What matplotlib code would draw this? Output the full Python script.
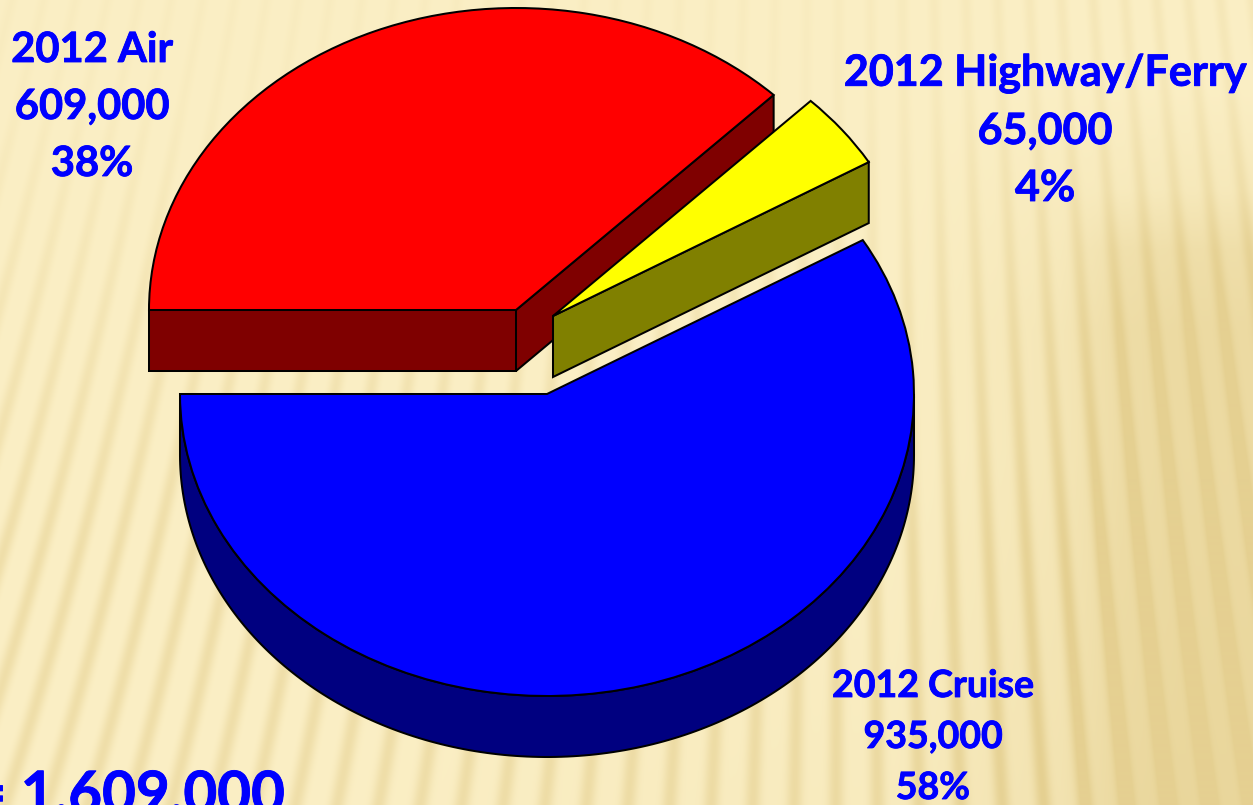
import numpy as np
import matplotlib
matplotlib.use("Agg")
import matplotlib.pyplot as plt
import matplotlib.patheffects as pe
from matplotlib.patches import Wedge, Polygon
from matplotlib.transforms import Affine2D

# data
categories = ["2012 Air", "2012 Highway/Ferry", "2012 Cruise"]
values = [609000, 65000, 935000]
percents = ["38%", "4%", "58%"]
value_labels = ["609,000", "65,000", "935,000"]
total_label = "= 1,609,000"

# style / layout
W, H = 1253, 805
centers = [(516, 310), (553, 316), (547, 394)]
RX, RY, DEPTH = 367, 302, 61
tops = ["#FF0000", "#FFFF00", "#0000FF"]
sides = ["#7F0000", "#808000", "#000080"]
BLUE_TEXT = "#0000FF"
START = 180.0
PERSPECTIVE = 1.06
LW = 1.45

fig = plt.figure(figsize=(W / 100, H / 100), dpi=100)
ax = fig.add_axes([0, 0, 1, 1])
ax.set_xlim(0, W)
ax.set_ylim(H, 0)
ax.axis("off")

# background texture: thin, slightly fanned stripes on a pale cream ground
yy, xx = np.mgrid[0:H, 0:W].astype(float)
lean = 0.28 - xx * 0.38 / 1150.0
u = xx + lean * (yy - 400.0)
s = (0.5 + 0.5 * np.sin(u * 2 * np.pi / 36.0)) ** 2.5
amp = 0.15 + 0.6 * np.clip((yy - 100) / 450.0, 0, 1) + 0.2 * np.clip((xx - 800) / 300.0, 0, 1)
dark = 0.45 * np.clip((xx - 880) / 300.0, 0, 1) * np.clip((yy - 80) / 250.0, 0, 1)
dark = dark + 0.22 * np.clip((xx - 1060) / 60.0, 0, 1) * np.clip((yy - 190) / 60.0, 0, 1)
dark = dark + 0.12 * np.clip((yy - 450) / 350.0, 0, 1) * np.clip((xx - 300) / 500.0, 0, 1)
t = np.clip(s * amp * 0.7 + dark, 0, 1)
base = np.array([251, 239, 197]) / 255
deep = np.array([229, 208, 145]) / 255
img = base[None, None, :] * (1 - t[..., None]) + deep[None, None, :] * t[..., None]
ax.imshow(img, extent=(0, W, H, 0), aspect="auto", zorder=0)


def warp(ang):
    """Perspective of the tilted pie: angle on the disc to angle on the ellipse."""
    r = np.deg2rad(ang)
    out = np.rad2deg(np.arctan2(PERSPECTIVE * np.sin(r), np.cos(r)))
    return out + 360 * np.round((ang - out) / 360)


# angular spans from the values
total = sum(values)
spans = [v / total * 360 for v in values]
theta = []
a = START
for sp in spans:
    theta.append((float(warp(a - sp)), float(warp(a))))
    a -= sp


def pt(c, ang, dy=0):
    r = np.deg2rad(ang)
    return np.column_stack([c[0] + RX * np.cos(r), c[1] - RY * np.sin(r) + dy])


def face(points, color, z):
    ax.add_patch(Polygon(points, closed=True, fc=color, ec="black", lw=LW,
                         joinstyle="miter", zorder=z))


def radial_side(c, ang, color, z):
    p = pt(c, np.array([ang]))[0]
    face([c, p, (p[0], p[1] + DEPTH), (c[0], c[1] + DEPTH)], color, z)


def top(c, t1, t2, color, z):
    tr = Affine2D().scale(RX, -RY).translate(*c) + ax.transData
    w = Wedge((0, 0), 1, t1, t2, fc=color, ec="black", lw=LW, zorder=z)
    w.set_transform(tr)
    ax.add_patch(w)


# Cruise
c = centers[2]
t1, t2 = theta[2]
arc = np.linspace(180, 360, 200)
rim_top = pt(c, arc)
rim_bot = pt(c, arc[::-1], DEPTH)
face(np.vstack([rim_top, rim_bot]), sides[2], 2)
top(c, t1, t2, tops[2], 3)

# Air
c = centers[0]
t1, t2 = theta[0]
radial_side(c, t1, sides[0], 4)
radial_side(c, t2, sides[0], 4)
top(c, t1, t2, tops[0], 5)

# Highway / Ferry
c = centers[1]
t1, t2 = theta[1]
radial_side(c, t1, sides[1], 6)
top(c, t1, t2, tops[1], 7)

# labels
FONT = "Lato"
bold = [pe.withStroke(linewidth=0.6, foreground=BLUE_TEXT)]
label_pos = [(92, [50, 107, 164], 30), (1045, [73, 131, 188], 31), (933, [686, 737, 788], 27)]
for i, (x, ys, fs) in enumerate(label_pos):
    lines = [categories[i], value_labels[i], percents[i]]
    for line, y in zip(lines, ys):
        ax.text(x, y, line, color=BLUE_TEXT, fontsize=fs, fontweight="bold", family=FONT,
                ha="center", va="center", zorder=10, path_effects=bold)

ax.text(285, 813, total_label, color=BLUE_TEXT, fontsize=42, fontweight="bold", family=FONT,
        ha="right", va="baseline", zorder=10, path_effects=bold)

fig.savefig("out.png", dpi=100)
